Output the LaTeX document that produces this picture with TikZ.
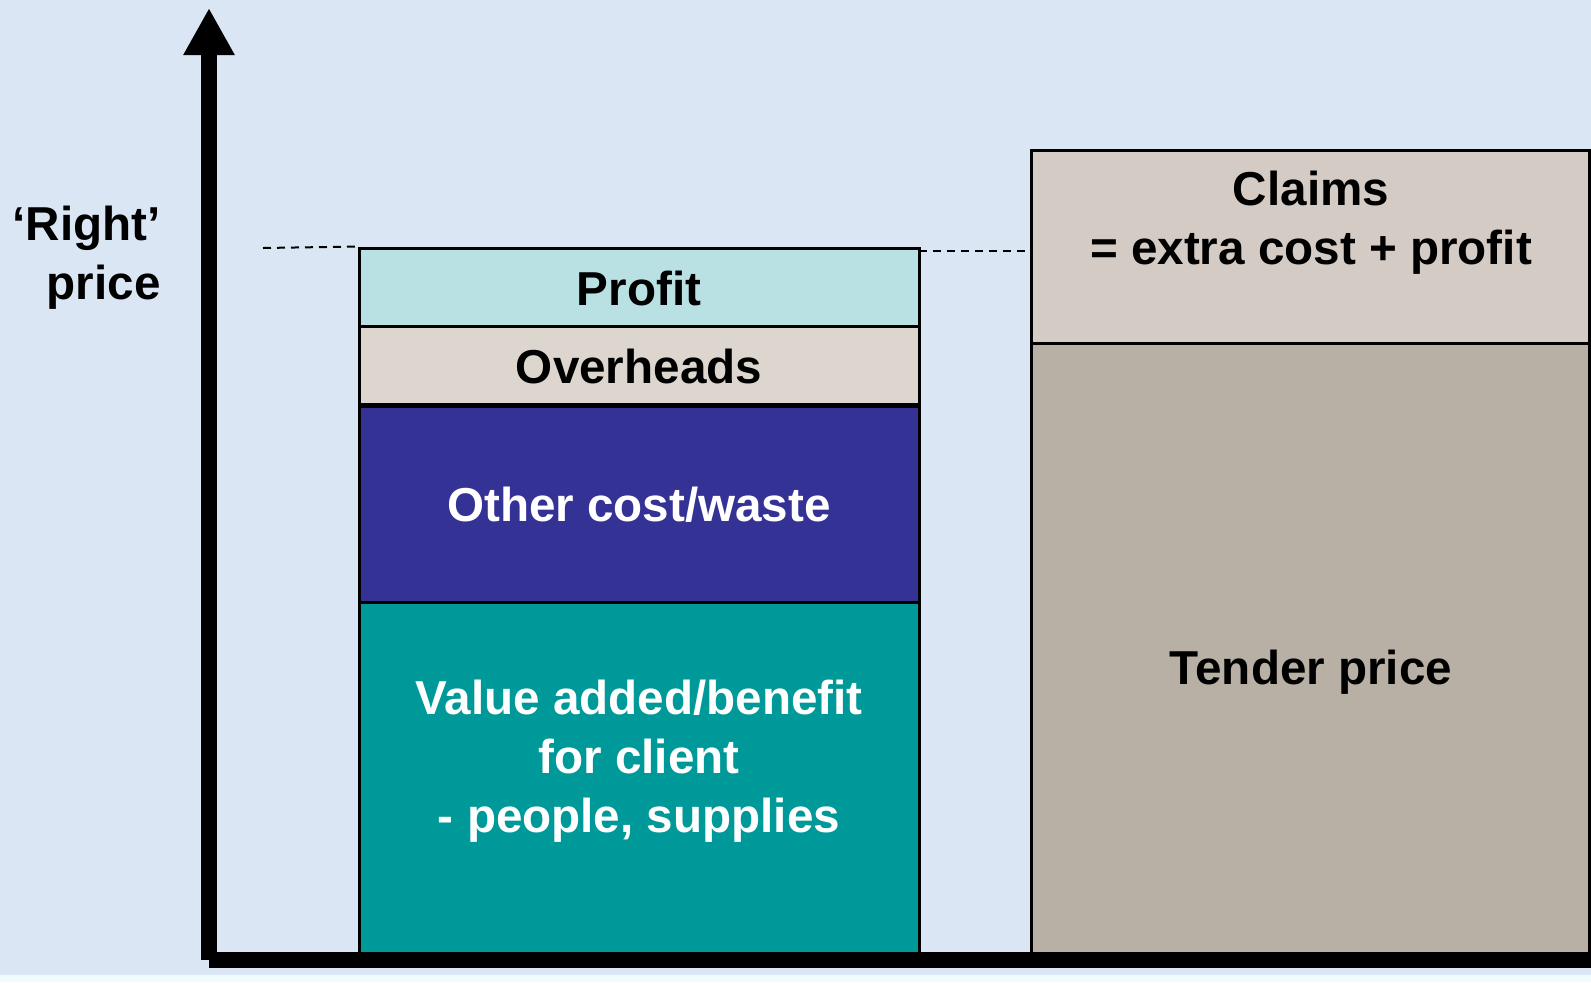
\documentclass[tikz,border=0pt]{standalone}
\usepackage{fontspec}
\setmainfont{Liberation Sans}
\usetikzlibrary{arrows.meta}
\definecolor{bg}{RGB}{219,230,245}
\definecolor{cprofit}{RGB}{185,224,226}
\definecolor{cover}{RGB}{221,214,206}
\definecolor{cother}{RGB}{53,50,150}
\definecolor{cvalue}{RGB}{0,153,153}
\definecolor{cclaims}{RGB}{212,203,196}
\definecolor{ctender}{RGB}{184,176,165}
\tikzset{
  bar/.style={draw=black, line width=1.5pt, inner sep=0pt, minimum width=280pt},
  lbl/.style={font=\fontsize{23.8}{29.5}\selectfont\bfseries, align=center, inner sep=0pt},
  axis/.style={line width=8pt, draw=black},
  guide/.style={line width=1pt, dash pattern=on 4pt off 3pt},
}
\begin{document}
\begin{tikzpicture}[x=0.5pt,y=-0.5pt]
\useasboundingbox (0,0) rectangle (1591,982);
\clip (0,0) rectangle (1591,982);
\fill[bg] (0,0) rectangle (1591,982);
\fill[bg!85!cyan!20!white] (0,975) rectangle (1591,982);
% left stack
\node[bar, fill=cprofit, minimum height=39pt] (profit) at (639,287) {};
\node[bar, fill=cover, minimum height=39pt] (over) at (639,365.5) {};
\node[bar, fill=cother, minimum height=98pt] (other) at (639,504) {};
\node[bar, fill=cvalue, minimum height=176pt] (value) at (639,778) {};
% right stack
\node[bar, fill=ctender, minimum width=279pt, minimum height=305.5pt] (tender) at (1310,648.5) {};
\node[bar, fill=cclaims, minimum width=279pt, minimum height=96.5pt] (claims) at (1310,246.5) {};
% texts
\node[lbl] (tprofit) at (639,288) {Profit};
\node[lbl] (tover) at (639,366) {Overheads};
\node[lbl, text=white] (tother) at (639,505) {Other cost/waste};
\node[lbl, text=white] (tvalue) at (639,761) {Value added/benefit\\for client\\- people, supplies};
\node[lbl] (tclaims) at (1311,223) {Claims\\= extra cost + profit};
\node[lbl] (ttender) at (1311,672) {Tender price};
\node[lbl, align=right, anchor=east] (tright) at (161,258) {‘Right’\\price};
% dashed guides
\coordinate (g1) at (263,248);
\draw[guide] (g1) -- (profit.north west);
\coordinate (g2) at (919,251);
\coordinate (g3) at (1029,251);
\draw[guide] (g2) -- (g3);
% axes
\coordinate (origin) at (209,960);
\coordinate (ytop) at (209,8);
\coordinate (xend) at (1640,960);
\draw[axis, -{Triangle[length=23.5pt,width=24pt]}] (origin) -- (ytop);
\draw[axis, -{Triangle[length=23.5pt,width=24pt]}] (origin) -- (xend);
\end{tikzpicture}
\end{document}
